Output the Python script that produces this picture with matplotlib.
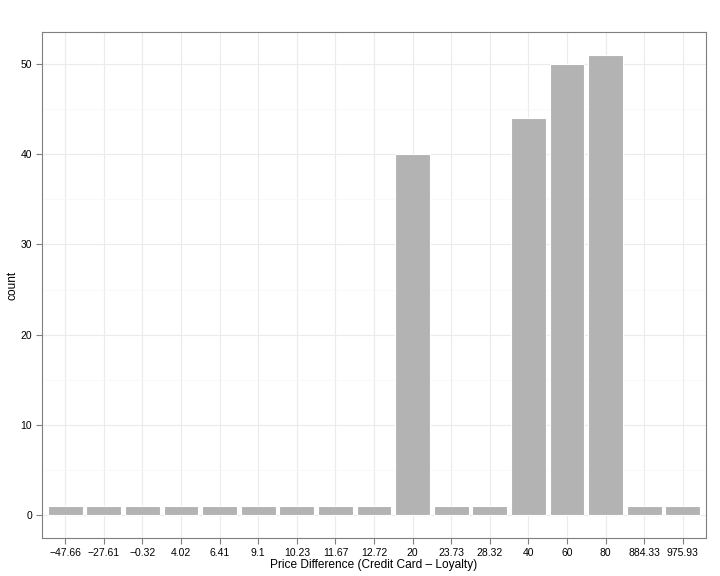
import matplotlib
matplotlib.use("Agg")
from matplotlib import pyplot as plt

labels = ["\u221247.66", "\u221227.61", "\u22120.32", "4.02", "6.41", "9.1", "10.23",
          "11.67", "12.72", "20", "23.73", "28.32", "40", "60", "80", "884.33", "975.93"]
counts = [1, 1, 1, 1, 1, 1, 1, 1, 1, 40, 1, 1, 44, 50, 51, 1, 1]

plt.rcParams["font.family"] = ["Liberation Sans", "DejaVu Sans"]

fig = plt.figure(figsize=(7.2, 5.76), dpi=100)
ax = fig.add_axes([42 / 720, 38 / 576, 664 / 720, 506 / 576])

x = list(range(1, len(labels) + 1))
ax.bar(x, counts, width=0.9, color="#b3b3b3", edgecolor="white", linewidth=0.8, zorder=3)

ax.set_xlim(0.4, len(labels) + 0.6)
ax.set_ylim(-2.55, 53.55)
ax.set_xticks(x)
ax.set_xticklabels(labels)
ax.set_yticks([0, 10, 20, 30, 40, 50])
ax.set_yticks([5, 15, 25, 35, 45], minor=True)

ax.grid(True, which="major", color="#ebebeb", linewidth=0.8, zorder=0)
ax.grid(True, which="minor", axis="y", color="#f7f7f7", linewidth=0.5, zorder=0)
ax.set_axisbelow(True)

for s in ax.spines.values():
    s.set_color("#7f7f7f")
    s.set_linewidth(0.8)

ax.tick_params(axis="both", which="major", length=4, color="#7f7f7f", labelsize=7.5,
               labelcolor="black", width=0.8, pad=3)
ax.tick_params(axis="y", which="minor", length=0)

ax.set_xlabel("Price Difference (Credit Card \u2013 Loyalty)", fontsize=8.6, labelpad=1)
ax.set_ylabel("count", fontsize=8.6)
ax.yaxis.set_label_coords(-23 / 664, 0.5)

plt.savefig("out.png", dpi=100)
